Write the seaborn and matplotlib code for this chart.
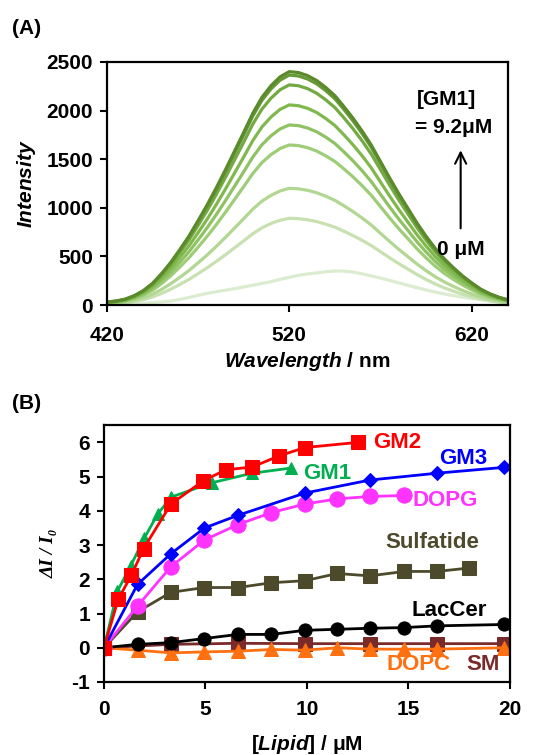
import numpy as np
import pandas as pd
import matplotlib
matplotlib.use("Agg")
import matplotlib.pyplot as plt
import seaborn as sns

# ---- panel A: GM1 titration spectra ----
wavelength = list(range(420, 641, 5))
# 0 uM spectrum (free probe)
free_spectrum = [4, 7, 10, 14, 19, 25, 33, 41, 58, 78,
                 100, 120, 137, 153, 168, 186, 204, 222, 240, 264,
                 285, 305, 320, 330, 342, 350, 348, 339, 320, 299,
                 277, 253, 228, 203, 178, 155, 133, 114, 97, 81,
                 68, 55, 44, 35, 27]
# normalised shape of the bound-state spectrum
bound_shape = [0.013, 0.017, 0.025, 0.040, 0.062, 0.093, 0.135, 0.183, 0.238, 0.296,
               0.362, 0.430, 0.503, 0.580, 0.660, 0.740, 0.822, 0.890, 0.940, 0.978,
               1.000, 0.996, 0.983, 0.962, 0.932, 0.897, 0.850, 0.800, 0.745, 0.685,
               0.615, 0.545, 0.478, 0.415, 0.352, 0.295, 0.243, 0.198, 0.160, 0.125,
               0.095, 0.068, 0.048, 0.033, 0.022]
# peak intensities after each GM1 addition
peak_intensity = [892, 1200, 1646, 1852, 2058, 2264, 2365, 2400]

# ---- panel B: titration curves ----
gm2_x = [0, 0.7, 1.35, 1.95, 3.3, 4.9, 6.0, 7.3, 8.6, 9.9, 12.5]
gm2_y = [0, 1.42, 2.12, 2.9, 4.2, 4.88, 5.2, 5.28, 5.6, 5.85, 6.0]
gm1_x = [0, 0.66, 1.32, 1.98, 2.64, 3.3, 5.3, 7.3, 9.2]
gm1_y = [0, 1.65, 2.4, 3.2, 3.9, 4.4, 4.82, 5.1, 5.25]
gm3_x = [0, 1.65, 3.3, 4.95, 6.6, 9.9, 13.1, 16.4, 19.7]
gm3_y = [0, 1.85, 2.75, 3.5, 3.87, 4.52, 4.9, 5.1, 5.27]
dopg_x = [0, 1.65, 3.3, 4.95, 6.6, 8.25, 9.9, 11.5, 13.1, 14.8]
dopg_y = [0, 1.22, 2.37, 3.15, 3.6, 3.95, 4.2, 4.35, 4.42, 4.45]
sulf_x = [0, 1.65, 3.3, 4.95, 6.6, 8.25, 9.9, 11.5, 13.1, 14.8, 16.4, 18.0]
sulf_y = [0, 1.05, 1.62, 1.76, 1.76, 1.9, 1.96, 2.17, 2.1, 2.23, 2.23, 2.33]
laccer_x = [0, 1.65, 3.3, 4.95, 6.6, 8.25, 9.9, 11.5, 13.1, 14.8, 16.4, 19.7]
laccer_y = [0, 0.1, 0.15, 0.27, 0.39, 0.39, 0.51, 0.54, 0.57, 0.59, 0.64, 0.68]
sm_x = [0, 3.3, 6.6, 9.9, 13.1, 16.4, 19.7]
sm_y = [0, 0.1, 0.13, 0.12, 0.12, 0.12, 0.12]
dopc_x = [0, 1.65, 3.3, 4.95, 6.6, 8.25, 9.9, 11.5, 13.1, 14.8, 16.4, 19.7]
dopc_y = [0, -0.07, -0.15, -0.12, -0.1, -0.05, -0.07, 0.0, -0.04, -0.04, -0.04, 0.0]

sns.set_theme(style="white")
plt.rcParams["font.family"] = ["Liberation Sans", "DejaVu Sans"]
plt.rcParams["font.weight"] = "bold"
plt.rcParams["text.color"] = "black"
plt.rcParams["axes.labelcolor"] = "black"
plt.rcParams["xtick.color"] = "black"
plt.rcParams["ytick.color"] = "black"
plt.rcParams["axes.unicode_minus"] = False
plt.rcParams["mathtext.fontset"] = "custom"
plt.rcParams["mathtext.it"] = "Liberation Sans:italic:bold"
plt.rcParams["mathtext.rm"] = "Liberation Sans:bold"
plt.rcParams["mathtext.bf"] = "Liberation Sans:bold"

fig = plt.figure(figsize=(5.34, 7.55), dpi=100)
ax_a = fig.add_axes([0.2004, 0.596, 0.751, 0.322])
ax_b = fig.add_axes([0.1948, 0.0967, 0.760, 0.340])

# build spectra table
rows = []
for w, v in zip(wavelength, free_spectrum):
    rows.append({"wl": w, "I": v, "curve": 0})
for k, pk in enumerate(peak_intensity, start=1):
    for w, s in zip(wavelength, bound_shape):
        rows.append({"wl": w, "I": pk * s, "curve": k})
spectra = pd.DataFrame(rows)

pal = sns.blend_palette(["#dcecd0", "#a3d07e", "#7cb548", "#5b8a2c"], n_colors=9)
sns.lineplot(data=spectra, x="wl", y="I", hue="curve", palette=pal,
             linewidth=2.3, legend=False, ax=ax_a)

ax_a.set_xlim(420, 640)
ax_a.set_ylim(0, 2500)
ax_a.set_xticks([420, 520, 620])
ax_a.set_yticks([0, 500, 1000, 1500, 2000, 2500])
ax_a.set_xlabel(r"$\mathit{Wavelength}$ / nm", fontsize=15, fontweight="bold", labelpad=4)
ax_a.set_ylabel(r"$\mathit{Intensity}$", fontsize=15, fontweight="bold", labelpad=6)

ax_a.text(606, 2110, "[GM1]", fontsize=15, ha="center", va="center")
ax_a.text(610, 1821, "= 9.2μM", fontsize=15, ha="center", va="center")
ax_a.text(614, 566, "0 μM", fontsize=15, ha="center", va="center")
ax_a.annotate("", xy=(614, 1620), xytext=(614, 760),
              arrowprops=dict(arrowstyle="->", color="black", lw=1.5,
                              mutation_scale=20))

# panel B series: (x, y, colour, marker, size)
series = [
    (sm_x, sm_y, "#7b2a2a", "s", 10.5),
    (dopc_x, dopc_y, "#ff7010", "^", 10),
    (laccer_x, laccer_y, "black", "o", 9.5),
    (sulf_x, sulf_y, "#4d4a2c", "s", 10.5),
    (dopg_x, dopg_y, "#ff33ff", "o", 11),
    (gm3_x, gm3_y, "#0000ff", "D", 7.5),
    (gm1_x, gm1_y, "#00b050", "^", 9),
    (gm2_x, gm2_y, "#ff0000", "s", 9.5),
]
for xs, ys, col, mk, ms in series:
    sns.lineplot(x=xs, y=ys, color=col, marker=mk, markersize=ms,
                 markeredgecolor=col, linewidth=2, ax=ax_b)

labels = [
    ("GM2", 14.43, 6.0, "#ff0000"),
    ("GM1", 11.0, 5.09, "#00b050"),
    ("GM3", 17.7, 5.53, "#0000ff"),
    ("DOPG", 16.8, 4.3, "#ff33ff"),
    ("Sulfatide", 16.2, 3.07, "#4d4a2c"),
    ("LacCer", 17.0, 1.08, "black"),
    ("DOPC", 15.5, -0.48, "#ff7010"),
    ("SM", 18.7, -0.48, "#7b2a2a"),
]
for txt, lx, ly, col in labels:
    ax_b.text(lx, ly, txt, color=col, fontsize=16, ha="center", va="center")

ax_b.set_xlim(0, 20)
ax_b.set_ylim(-1, 6.5)
ax_b.set_xticks([0, 5, 10, 15, 20])
ax_b.set_yticks([-1, 0, 1, 2, 3, 4, 5, 6])
ax_b.set_xlabel(r"$\mathit{[Lipid]}$ / μM", fontsize=15, fontweight="bold", labelpad=10)
ax_b.set_ylabel("ΔI / I₀", fontsize=14, family=["Liberation Serif", "DejaVu Serif"],
                style="italic", weight="bold", labelpad=10)

for ax in (ax_a, ax_b):
    for sp in ax.spines.values():
        sp.set_color("black")
        sp.set_linewidth(1.6)
    ax.tick_params(axis="both", which="major", direction="out", length=5,
                   width=1.5, color="black", labelsize=15, pad=5,
                   bottom=True, left=True)
    for lab in ax.get_xticklabels() + ax.get_yticklabels():
        lab.set_fontweight("bold")
ax_a.tick_params(axis="x", pad=10)
ax_b.tick_params(axis="x", pad=8)

fig.text(0.022, 0.962, "(A)", fontsize=15, weight="bold", va="center")
fig.text(0.022, 0.466, "(B)", fontsize=15, weight="bold", va="center")

fig.savefig("out.png", dpi=100)
